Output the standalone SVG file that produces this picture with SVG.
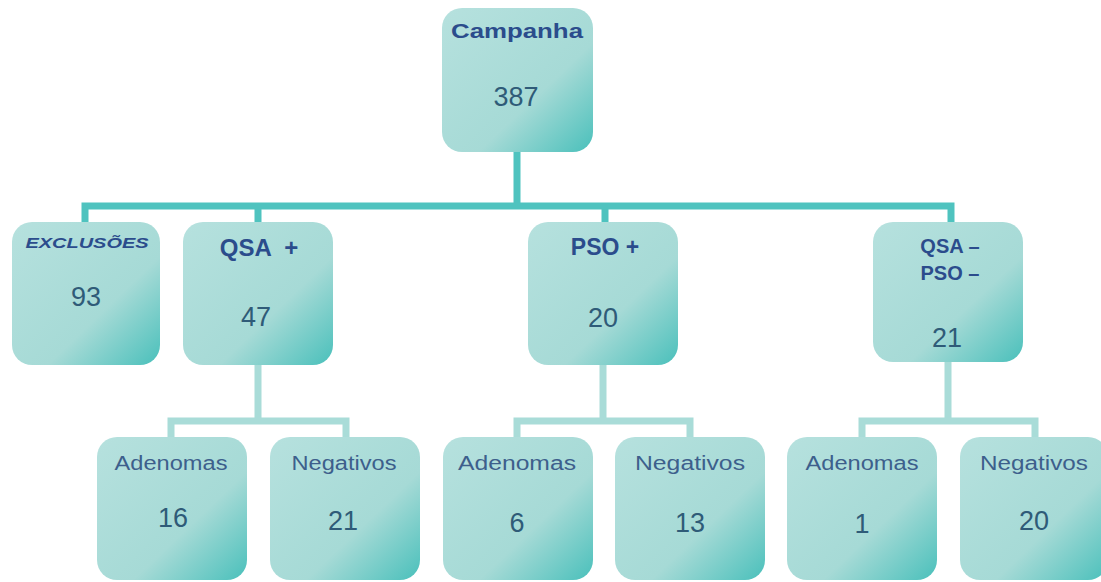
<svg xmlns="http://www.w3.org/2000/svg" width="1101" height="582" viewBox="0 0 1101 582">
<defs>
<linearGradient id="g" x1="0" y1="0" x2="1" y2="1">
<stop offset="0" stop-color="#b6e1de"/>
<stop offset="0.62" stop-color="#a6dad6"/>
<stop offset="1" stop-color="#4ac0bb"/>
</linearGradient>
<style>
.box{fill:url(#g);}
.t{font-family:"Liberation Sans",Arial,sans-serif;font-weight:bold;fill:#2b4c8c;text-anchor:middle;}
.n{font-family:"Liberation Sans",Arial,sans-serif;fill:#2f5b78;text-anchor:middle;font-size:27px;}
.s{font-family:"Liberation Sans",Arial,sans-serif;fill:#3d5f8c;text-anchor:middle;font-size:20px;}
.c1{stroke:#4fc3bf;stroke-width:7;fill:none;}
.c2{stroke:#a9dcd8;stroke-width:7;fill:none;}
</style>
</defs>
<rect width="1101" height="582" fill="#ffffff"/>
<g id="connectors">
<path class="c1" d="M517 150V206M85 222V206H951V222M258 206V222M605 206V222"/>
<path class="c2" d="M258 364V421M171 437V421H346V437"/>
<path class="c2" d="M603 364V421M517 437V421H690V437"/>
<path class="c2" d="M948 360V421M862 437V421H1035V437"/>
</g>
<g id="campanha"><rect class="box" x="442" y="8" width="151" height="144" rx="20"/><text class="t" x="517" y="38" font-size="21" textLength="132" lengthAdjust="spacingAndGlyphs">Campanha</text><text class="n" x="516" y="106">387</text></g>
<g id="exclusoes"><rect class="box" x="12" y="222" width="148" height="143" rx="20"/><text class="t" x="87" y="248" font-size="15" font-style="italic" textLength="123" lengthAdjust="spacingAndGlyphs">EXCLUSÕES</text><text class="n" x="86" y="306">93</text></g>
<g id="qsa-pos"><rect class="box" x="183" y="222" width="150" height="143" rx="20"/><text class="t" x="259" y="256" font-size="24" xml:space="preserve">QSA  +</text><text class="n" x="256" y="326">47</text></g>
<g id="pso-pos"><rect class="box" x="528" y="222" width="150" height="143" rx="20"/><text class="t" x="605" y="255" font-size="23">PSO +</text><text class="n" x="603" y="327">20</text></g>
<g id="qsa-pso-neg"><rect class="box" x="873" y="222" width="150" height="140" rx="20"/><text class="t" x="950" y="253" font-size="20">QSA –</text><text class="t" x="950" y="280" font-size="20">PSO –</text><text class="n" x="947" y="347">21</text></g>
<g id="qsa-adenomas"><rect class="box" x="97" y="437" width="150" height="143" rx="20"/><text class="s" x="171" y="470" textLength="113" lengthAdjust="spacingAndGlyphs">Adenomas</text><text class="n" x="173" y="527">16</text></g>
<g id="qsa-negativos"><rect class="box" x="270" y="437" width="150" height="143" rx="20"/><text class="s" x="344" y="470" textLength="105" lengthAdjust="spacingAndGlyphs">Negativos</text><text class="n" x="343" y="530">21</text></g>
<g id="pso-adenomas"><rect class="box" x="443" y="437" width="150" height="143" rx="20"/><text class="s" x="517" y="470" textLength="118" lengthAdjust="spacingAndGlyphs">Adenomas</text><text class="n" x="517" y="532">6</text></g>
<g id="pso-negativos"><rect class="box" x="615" y="437" width="150" height="143" rx="20"/><text class="s" x="690" y="470" textLength="110" lengthAdjust="spacingAndGlyphs">Negativos</text><text class="n" x="690" y="532">13</text></g>
<g id="neg-adenomas"><rect class="box" x="787" y="437" width="150" height="143" rx="20"/><text class="s" x="862" y="470" textLength="113" lengthAdjust="spacingAndGlyphs">Adenomas</text><text class="n" x="862" y="533">1</text></g>
<g id="neg-negativos"><rect class="box" x="960" y="437" width="148" height="143" rx="20"/><text class="s" x="1034" y="470" textLength="108" lengthAdjust="spacingAndGlyphs">Negativos</text><text class="n" x="1034" y="530">20</text></g>
</svg>
